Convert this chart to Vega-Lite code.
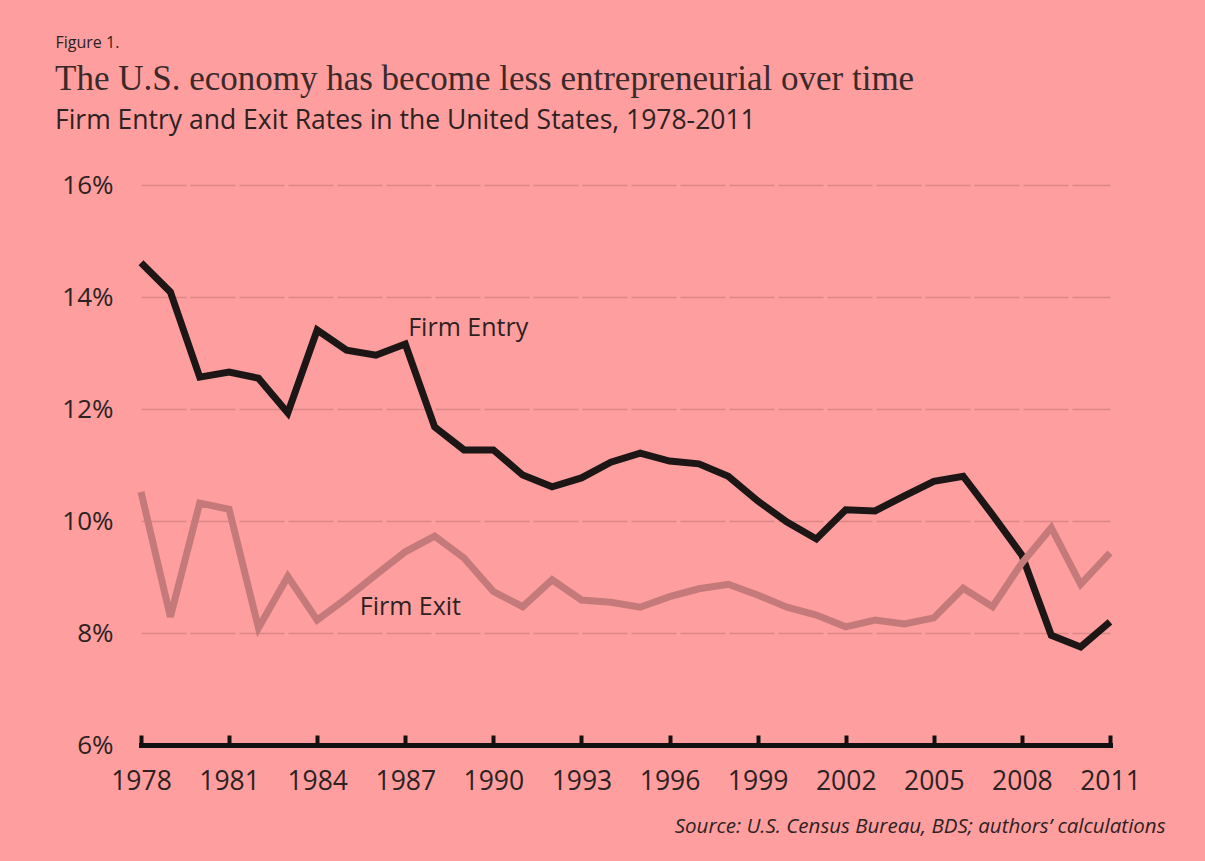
{
  "$schema": "https://vega.github.io/schema/vega-lite/v6.json",
  "width": 969,
  "height": 560,
  "autosize": {"type": "none"},
  "padding": {"left": 141, "top": 185, "right": 95, "bottom": 116},
  "background": "#FF9E9E",
  "config": {
    "view": {"stroke": null},
    "font": "Open Sans"
  },
  "title": {
    "text": "The U.S. economy has become less entrepreneurial over time",
    "subtitle": "Firm Entry and Exit Rates in the United States, 1978-2011",
    "anchor": "start",
    "frame": "group",
    "dx": -86,
    "offset": -100,
    "font": "Liberation Serif",
    "fontSize": 35,
    "fontWeight": "normal",
    "color": "#3a2a2a",
    "subtitleFont": "Open Sans",
    "subtitleFontSize": 26.5,
    "subtitleColor": "#2d2222",
    "subtitlePadding": 11
  },
  "datasets": {
    "rates": [
      {"year": 1978, "series": "Firm Entry", "rate": 14.61},
      {"year": 1979, "series": "Firm Entry", "rate": 14.09},
      {"year": 1980, "series": "Firm Entry", "rate": 12.57},
      {"year": 1981, "series": "Firm Entry", "rate": 12.66},
      {"year": 1982, "series": "Firm Entry", "rate": 12.55},
      {"year": 1983, "series": "Firm Entry", "rate": 11.93},
      {"year": 1984, "series": "Firm Entry", "rate": 13.41},
      {"year": 1985, "series": "Firm Entry", "rate": 13.05},
      {"year": 1986, "series": "Firm Entry", "rate": 12.96},
      {"year": 1987, "series": "Firm Entry", "rate": 13.16},
      {"year": 1988, "series": "Firm Entry", "rate": 11.68},
      {"year": 1989, "series": "Firm Entry", "rate": 11.27},
      {"year": 1990, "series": "Firm Entry", "rate": 11.27},
      {"year": 1991, "series": "Firm Entry", "rate": 10.82},
      {"year": 1992, "series": "Firm Entry", "rate": 10.61},
      {"year": 1993, "series": "Firm Entry", "rate": 10.77},
      {"year": 1994, "series": "Firm Entry", "rate": 11.05},
      {"year": 1995, "series": "Firm Entry", "rate": 11.21},
      {"year": 1996, "series": "Firm Entry", "rate": 11.07},
      {"year": 1997, "series": "Firm Entry", "rate": 11.02},
      {"year": 1998, "series": "Firm Entry", "rate": 10.8},
      {"year": 1999, "series": "Firm Entry", "rate": 10.36},
      {"year": 2000, "series": "Firm Entry", "rate": 9.98},
      {"year": 2001, "series": "Firm Entry", "rate": 9.68},
      {"year": 2002, "series": "Firm Entry", "rate": 10.2},
      {"year": 2003, "series": "Firm Entry", "rate": 10.18},
      {"year": 2004, "series": "Firm Entry", "rate": 10.45},
      {"year": 2005, "series": "Firm Entry", "rate": 10.71},
      {"year": 2006, "series": "Firm Entry", "rate": 10.8},
      {"year": 2007, "series": "Firm Entry", "rate": 10.11},
      {"year": 2008, "series": "Firm Entry", "rate": 9.39},
      {"year": 2009, "series": "Firm Entry", "rate": 7.96},
      {"year": 2010, "series": "Firm Entry", "rate": 7.75},
      {"year": 2011, "series": "Firm Entry", "rate": 8.2},
      {"year": 1978, "series": "Firm Exit", "rate": 10.52},
      {"year": 1979, "series": "Firm Exit", "rate": 8.29},
      {"year": 1980, "series": "Firm Exit", "rate": 10.32},
      {"year": 1981, "series": "Firm Exit", "rate": 10.21},
      {"year": 1982, "series": "Firm Exit", "rate": 8.09},
      {"year": 1983, "series": "Firm Exit", "rate": 9.01},
      {"year": 1984, "series": "Firm Exit", "rate": 8.23},
      {"year": 1985, "series": "Firm Exit", "rate": 8.62},
      {"year": 1986, "series": "Firm Exit", "rate": 9.04},
      {"year": 1987, "series": "Firm Exit", "rate": 9.45},
      {"year": 1988, "series": "Firm Exit", "rate": 9.73},
      {"year": 1989, "series": "Firm Exit", "rate": 9.34},
      {"year": 1990, "series": "Firm Exit", "rate": 8.74},
      {"year": 1991, "series": "Firm Exit", "rate": 8.47},
      {"year": 1992, "series": "Firm Exit", "rate": 8.95},
      {"year": 1993, "series": "Firm Exit", "rate": 8.59},
      {"year": 1994, "series": "Firm Exit", "rate": 8.55},
      {"year": 1995, "series": "Firm Exit", "rate": 8.46},
      {"year": 1996, "series": "Firm Exit", "rate": 8.65},
      {"year": 1997, "series": "Firm Exit", "rate": 8.79},
      {"year": 1998, "series": "Firm Exit", "rate": 8.87},
      {"year": 1999, "series": "Firm Exit", "rate": 8.68},
      {"year": 2000, "series": "Firm Exit", "rate": 8.46},
      {"year": 2001, "series": "Firm Exit", "rate": 8.32},
      {"year": 2002, "series": "Firm Exit", "rate": 8.11},
      {"year": 2003, "series": "Firm Exit", "rate": 8.23},
      {"year": 2004, "series": "Firm Exit", "rate": 8.16},
      {"year": 2005, "series": "Firm Exit", "rate": 8.27},
      {"year": 2006, "series": "Firm Exit", "rate": 8.8},
      {"year": 2007, "series": "Firm Exit", "rate": 8.47},
      {"year": 2008, "series": "Firm Exit", "rate": 9.25},
      {"year": 2009, "series": "Firm Exit", "rate": 9.88},
      {"year": 2010, "series": "Firm Exit", "rate": 8.87},
      {"year": 2011, "series": "Firm Exit", "rate": 9.43}
    ],
    "labels": [
      {"year": 1987.1, "rate": 13.45, "label": "Firm Entry"},
      {"year": 1985.45, "rate": 8.46, "label": "Firm Exit"}
    ]
  },
  "layer": [
    {
      "data": {"name": "rates"},
      "transform": [{"filter": "datum.series === 'Firm Entry'"}],
      "mark": {"type": "line", "color": "#1c1616", "strokeWidth": 7, "strokeJoin": "miter", "strokeCap": "butt"},
      "encoding": {
        "x": {
          "field": "year",
          "type": "quantitative",
          "scale": {"domain": [1978, 2011], "nice": false, "zero": false},
          "axis": {
            "values": [1978, 1981, 1984, 1987, 1990, 1993, 1996, 1999, 2002, 2005, 2008, 2011],
            "format": "d",
            "grid": false,
            "labelFlush": false,
            "labelOverlap": false,
            "domainColor": "#111111",
            "domainWidth": 5,
            "domainCap": "square",
            "tickColor": "#111111",
            "tickWidth": 4,
            "tickSize": -10,
            "labelFontSize": 26.5,
            "labelColor": "#2d2222",
            "labelPadding": 33,
            "labelFont": "Open Sans",
            "title": "Source: U.S. Census Bureau, BDS; authors’ calculations",
            "titleFont": "Open Sans",
            "titleFontStyle": "italic",
            "titleFontWeight": "normal",
            "titleFontSize": 20.5,
            "titleColor": "#2d2222",
            "titleAlign": "right",
            "titleAnchor": null,
            "titleBaseline": "alphabetic",
            "titleX": 1024,
            "titleY": 87
          }
        },
        "y": {
          "field": "rate",
          "type": "quantitative",
          "scale": {"domain": [6, 16], "nice": false, "zero": false},
          "axis": {
            "values": [6, 8, 10, 12, 14, 16],
            "labelExpr": "datum.value + '%'",
            "domain": false,
            "ticks": false,
            "tickSize": 0,
            "labelPadding": 28,
            "labelFontSize": 26,
            "labelColor": "#2d2222",
            "labelFont": "Open Sans",
            "grid": true,
            "gridColor": "#D98787",
            "gridWidth": 1.5,
            "gridDash": [45, 4],
            "title": "Figure 1.",
            "titleFont": "Open Sans",
            "titleFontSize": 16,
            "titleFontWeight": "normal",
            "titleColor": "#2d2222",
            "titleAngle": 0,
            "titleAlign": "left",
            "titleAnchor": null,
            "titleBaseline": "alphabetic",
            "titleX": -86,
            "titleY": -138
          }
        }
      }
    },
    {
      "data": {"name": "rates"},
      "transform": [{"filter": "datum.series === 'Firm Exit'"}],
      "mark": {"type": "line", "color": "#C47A7A", "strokeWidth": 7, "strokeJoin": "miter", "strokeCap": "butt"},
      "encoding": {
        "x": {"field": "year", "type": "quantitative"},
        "y": {"field": "rate", "type": "quantitative"}
      }
    },
    {
      "data": {"name": "labels"},
      "mark": {"type": "text", "align": "left", "baseline": "middle", "fontSize": 25, "font": "Open Sans", "color": "#2d2222"},
      "encoding": {
        "x": {"field": "year", "type": "quantitative"},
        "y": {"field": "rate", "type": "quantitative"},
        "text": {"field": "label"}
      }
    }
  ]
}
